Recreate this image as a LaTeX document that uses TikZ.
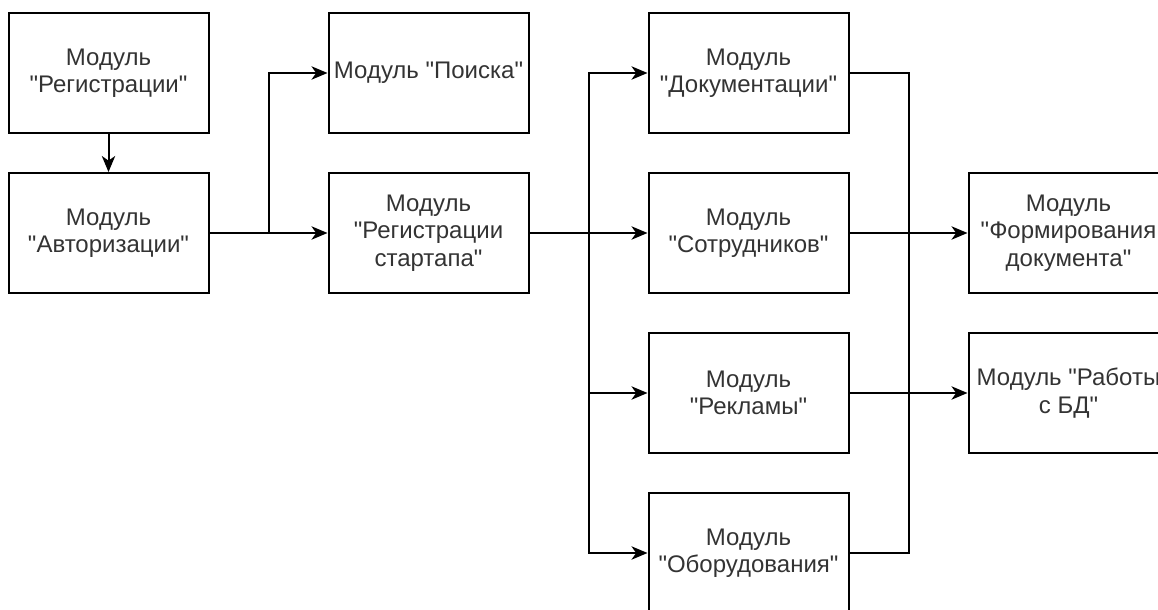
\documentclass[tikz,border=0pt]{standalone}
\usepackage{fontspec}
\setmainfont{Liberation Sans}[Ligatures=TeXOff]
\usetikzlibrary{arrows.meta,positioning,calc}
\definecolor{txtgray}{HTML}{333333}

\begin{document}
\begin{tikzpicture}[x=0.75pt,y=-0.75pt,>={Stealth[length=12pt,width=10pt,inset=3.5pt]},
    modbox/.style={draw,line width=1.5pt,minimum width=150pt,minimum height=90pt,
      align=center,inner sep=0pt,text=txtgray,font=\fontsize{18pt}{20.5pt}\selectfont},
    conn/.style={line width=1.5pt},
    node distance=28.5pt and 88.5pt]
    \useasboundingbox (0,0) rectangle (1158,610);
    \clip (0,0) rectangle (1158,610);
    % modules
    \node[modbox] (reg) at (108.5,73) {Модуль\\"Регистрации"};
    \node[modbox,below=of reg] (avt) {Модуль\\"Авторизации"};
    \node[modbox,right=of reg] (poisk) {Модуль "Поиска"};
    \node[modbox,right=of avt] (start) {Модуль\\"Регистрации\\стартапа"};
    \node[modbox,right=of poisk] (doc) {Модуль\\"Документации"};
    \node[modbox,right=of start] (sotr) {Модуль\\"Сотрудников"};
    \node[modbox,below=of sotr] (rekl) {Модуль\\"Рекламы"};
    \node[modbox,below=of rekl] (obor) {Модуль\\"Оборудования"};
    \node[modbox,right=of sotr] (form) {Модуль\\"Формирования\\документа"};
    \node[modbox,right=of rekl] (bd) {Модуль "Работы\\с БД"};
    % connectors
    \draw[conn,->] (reg) -- (avt);
    \draw[conn,->] (avt) -- (start);
    \coordinate (j1) at ($(avt.east)!0.5!(start.west)$);
    \draw[conn,->] (j1) |- (poisk.west);
    \draw[conn,->] (start) -- (sotr);
    \coordinate (j2) at ($(start.east)!0.5!(sotr.west)$);
    \foreach \m in {doc,rekl,obor}
      \draw[conn,->] (j2) |- (\m.west);
    \coordinate (j3) at ($(sotr.east)!0.5!(form.west)$);
    \draw[conn] (doc.east) -| (j3 |- obor.east) -- (obor.east);
    \draw[conn,->] (sotr) -- (form);
    \draw[conn,->] (rekl) -- (bd);
\end{tikzpicture}
\end{document}
